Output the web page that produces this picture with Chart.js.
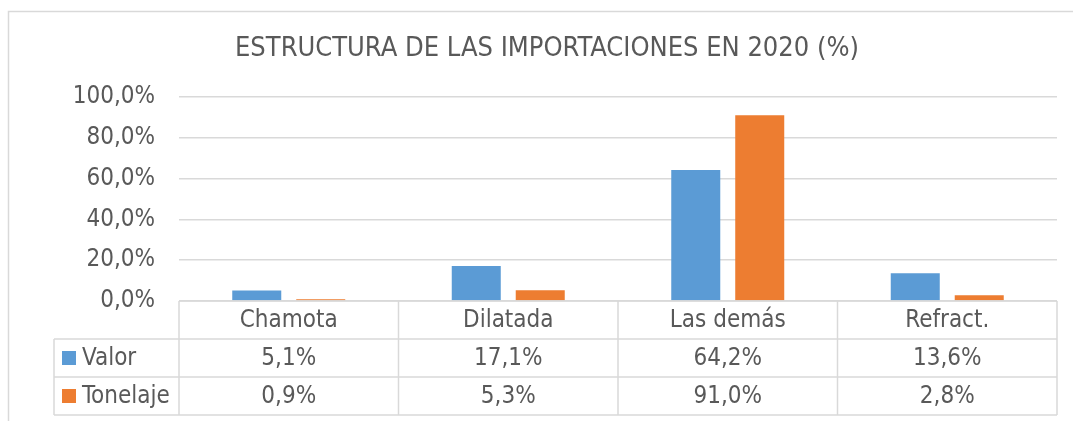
<!DOCTYPE html>
<html>
<head>
<meta charset="utf-8">
<script src="https://cdn.jsdelivr.net/npm/chart.js@4"></script>
<style>
  html, body { margin: 0; padding: 0; background: #fff; overflow: hidden; }
  #wrap { position: relative; width: 1073px; height: 421px; }
</style>
</head>
<body>
<div id="wrap"><canvas id="chart" width="1073" height="421"></canvas></div>
<script>
// ─── Data ────────────────────────────────────────────────────
const TITLE      = 'ESTRUCTURA DE LAS IMPORTACIONES EN 2020 (%)';
const categories = ['Chamota', 'Dilatada', 'Las demás', 'Refract.'];
const valor      = [5.1, 17.1, 64.2, 13.6];
const tonelaje   = [0.9, 5.3, 91.0, 2.8];
const yTicks     = [0, 20, 40, 60, 80, 100];

const TEXT   = '#595959';
const GRID   = '#D9D9D9';
const BLUE   = '#5B9BD5';
const ORANGE = '#ED7D31';
const FONT   = "'DejaVu Sans Condensed', 'DejaVu Sans', sans-serif";

const fmt = (v, d) => v.toFixed(d).replace('.', ',') + '%';

// ─── Frame + title ───────────────────────────────────────────
const framePlugin = {
  id: 'frame',
  beforeDraw(chart) {
    const ctx = chart.ctx;
    ctx.save();
    ctx.strokeStyle = GRID;
    ctx.lineWidth = 1.5;
    ctx.beginPath();
    ctx.moveTo(8.5, 430);
    ctx.lineTo(8.5, 11.5);
    ctx.lineTo(1080, 11.5);
    ctx.stroke();

    ctx.fillStyle = TEXT;
    ctx.font = `27px ${FONT}`;
    ctx.textAlign = 'center';
    ctx.textBaseline = 'middle';
    ctx.fillText(TITLE, 547, 49);
    ctx.restore();
  },
};

// ─── Data table under the plot ───────────────────────────────
const tablePlugin = {
  id: 'dataTable',
  afterDraw(chart) {
    const ctx  = chart.ctx;
    const x    = chart.scales.x;
    const area = chart.chartArea;
    const rowH = 38;
    const top  = area.bottom;
    const legendLeft = 54;

    const half = (x.getPixelForValue(1) - x.getPixelForValue(0)) / 2;
    const edges = categories.map((_, i) => x.getPixelForValue(i) - half);
    edges.push(x.getPixelForValue(categories.length - 1) + half);

    ctx.save();
    ctx.strokeStyle = GRID;
    ctx.lineWidth = 1.5;
    ctx.beginPath();
    ctx.moveTo(area.left, top); ctx.lineTo(area.right, top);
    for (let r = 1; r <= 3; r++) {
      ctx.moveTo(legendLeft, top + r * rowH);
      ctx.lineTo(area.right, top + r * rowH);
    }
    edges.forEach((ex) => {
      ctx.moveTo(ex, top); ctx.lineTo(ex, top + 3 * rowH);
    });
    ctx.moveTo(legendLeft, top + rowH); ctx.lineTo(legendLeft, top + 3 * rowH);
    ctx.stroke();

    ctx.fillStyle = TEXT;
    ctx.font = `24px ${FONT}`;
    ctx.textAlign = 'center';
    ctx.textBaseline = 'middle';
    categories.forEach((c, i) => {
      const cx = x.getPixelForValue(i);
      ctx.fillText(c, cx, top + rowH / 2 + 1);
      ctx.fillText(fmt(valor[i], 1), cx, top + rowH * 1.5 + 1);
      ctx.fillText(fmt(tonelaje[i], 1), cx, top + rowH * 2.5 + 1);
    });

    // legend keys in the first column
    chart.data.datasets.forEach((ds, r) => {
      const cy = top + rowH * (r + 1.5);
      ctx.fillStyle = ds.backgroundColor;
      ctx.fillRect(62, cy - 7, 14, 14);
      ctx.fillStyle = TEXT;
      ctx.textAlign = 'left';
      ctx.fillText(ds.label, 82, cy + 1);
    });
    ctx.restore();
  },
};

new Chart(document.getElementById('chart'), {
  type: 'bar',
  data: {
    labels: categories,
    datasets: [
      { label: 'Valor',    data: valor,    backgroundColor: BLUE },
      { label: 'Tonelaje', data: tonelaje, backgroundColor: ORANGE },
    ],
  },
  options: {
    responsive: false,
    animation: false,
    devicePixelRatio: 1,
    layout: { padding: { top: 97, right: 16, bottom: 120, left: 0 } },
    datasets: { bar: { categoryPercentage: 0.583, barPercentage: 0.766 } },
    plugins: {
      legend: { display: false },
      title: { display: false },
      tooltip: { enabled: false },
    },
    scales: {
      x: { display: false },
      y: {
        min: 0,
        max: 100,
        afterFit(scale) { scale.width = 179; },
        afterBuildTicks(scale) { scale.ticks = yTicks.map((v) => ({ value: v })); },
        border: { display: false },
        grid: { color: GRID, lineWidth: 1.5, drawTicks: false },
        ticks: {
          color: TEXT,
          font: { family: FONT, size: 24 },
          padding: 24,
          callback: (v) => fmt(v, 1),
        },
      },
    },
  },
  plugins: [framePlugin, tablePlugin],
});
</script>
</body>
</html>
